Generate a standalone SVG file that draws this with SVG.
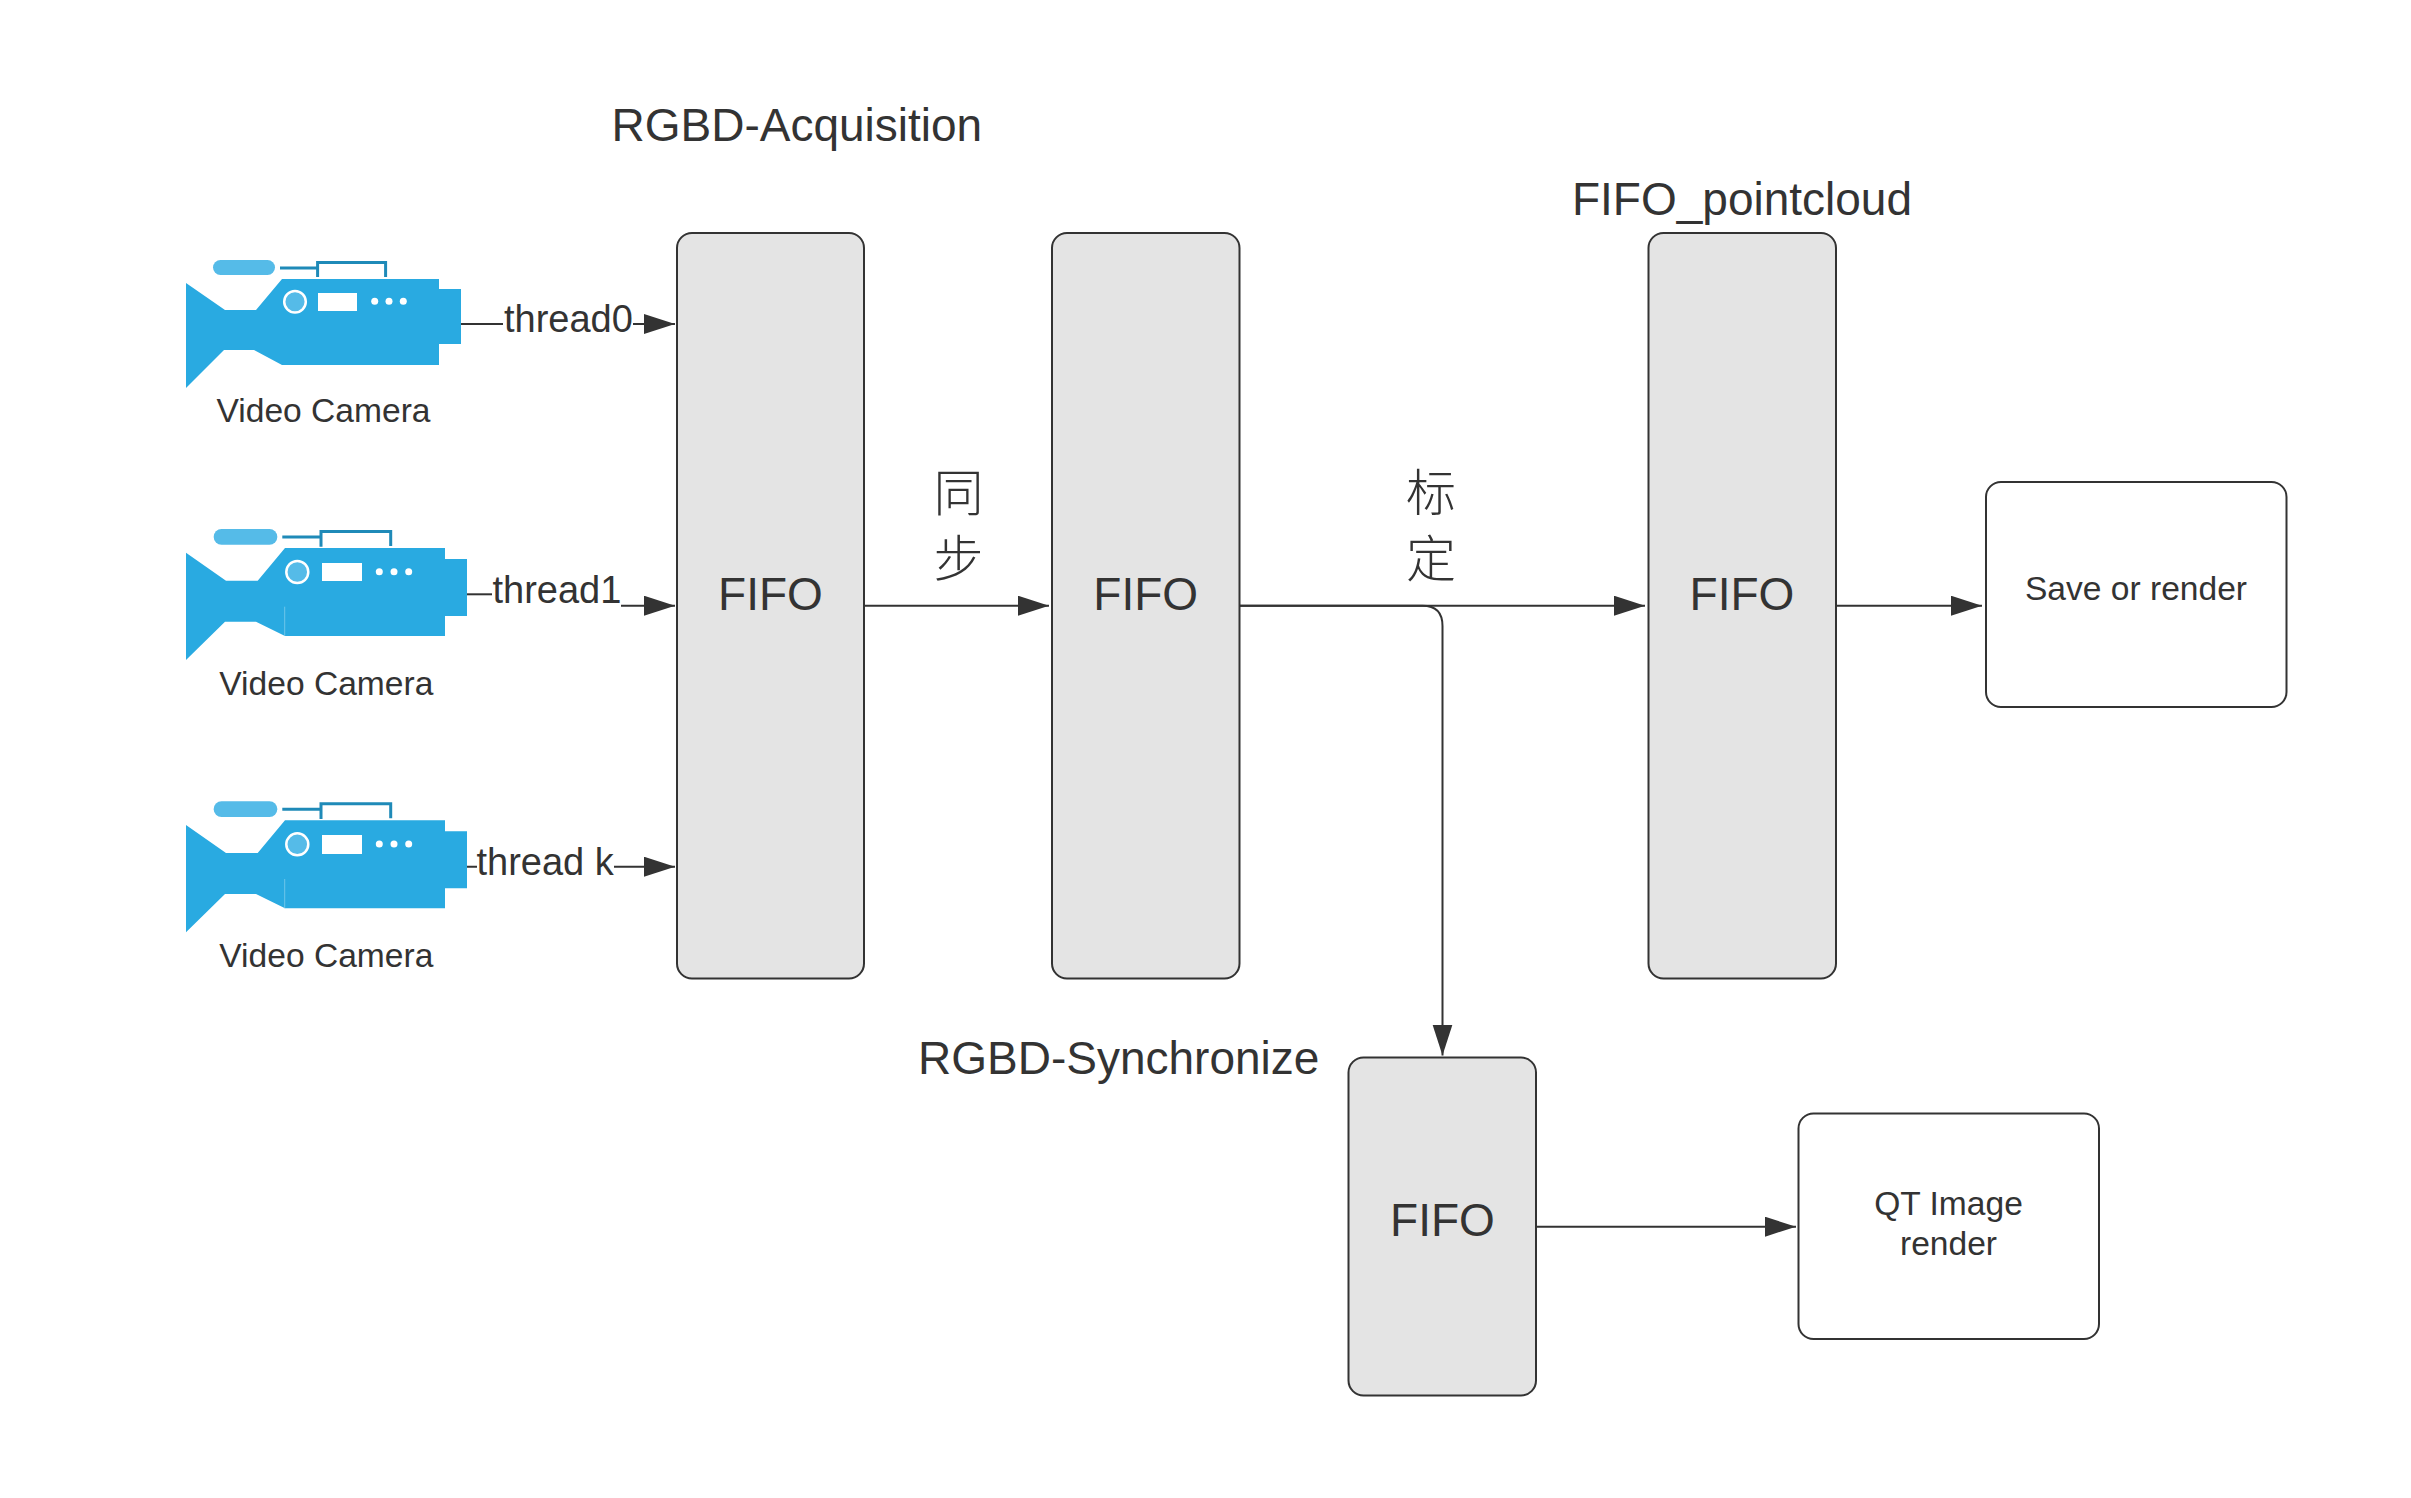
<svg xmlns="http://www.w3.org/2000/svg" width="2411" height="1498" viewBox="0 0 2411 1498">
<style>
text{font-family:"Liberation Sans","Noto Sans CJK SC",sans-serif;fill:#333}
.t46{font-size:46px}.t37{font-size:38px}.t33{font-size:33.6px}
.m{text-anchor:middle}
.cjk{font-family:"Noto Sans CJK SC","Liberation Sans",sans-serif;font-size:50px;font-weight:300}
.fifo{fill:#e4e4e4;stroke:#333;stroke-width:2}
.box{fill:#fff;stroke:#333;stroke-width:2}
.ln{fill:none;stroke:#333;stroke-width:2}
.body{fill:#29aae1}
.light{fill:#55bbe8}
.dark{fill:none;stroke:#1f8ab8;stroke-width:3}
.w{fill:#fff}
</style>
<defs>
<marker id="a" markerUnits="userSpaceOnUse" markerWidth="32" markerHeight="22" refX="31" refY="10" orient="auto"><path d="M0 0L31 10L0 20Z" fill="#333"/></marker>
</defs>
<rect width="2411" height="1498" fill="#fff"/>
<g id="connectors">
<path class="ln" d="M461 324H503M633 324H675" marker-end="url(#a)"/>
<path class="ln" d="M467 594.3H492"/>
<path class="ln" d="M621 605.7H675" marker-end="url(#a)"/>
<path class="ln" d="M467 866.7H477M614 866.7H675" marker-end="url(#a)"/>
<path class="ln" d="M864 605.7H1049" marker-end="url(#a)"/>
<path class="ln" d="M1239.5 605.7H1645" marker-end="url(#a)"/>
<path class="ln" d="M1239.5 605.7H1422.5Q1442.5 605.7 1442.5 626V1055.5" marker-end="url(#a)"/>
<path class="ln" d="M1836 605.7H1982" marker-end="url(#a)"/>
<path class="ln" d="M1537 1226.7H1796" marker-end="url(#a)"/>
</g>
<g id="camera0">
<rect class="light" x="213" y="260" width="62" height="15" rx="7.5"/>
<path class="dark" d="M280 268H317.6M317.6 277V262.5H385.6V277"/>
<path class="body" d="M186 283L225 310H256L282 279H439V289H461V344H439V365H282L254 350H224L186 388Z"/>
<circle class="light" cx="295" cy="301.7" r="10.8" stroke="#fff" stroke-width="2.5"/>
<rect class="w" x="318" y="293" width="39" height="18"/>
<circle class="w" cx="374.7" cy="301.3" r="3.5"/><circle class="w" cx="389" cy="301.3" r="3.5"/><circle class="w" cx="403.3" cy="301.3" r="3.5"/>
<text class="t33" x="216.5" y="422">Video Camera</text>
</g>
<g id="camera1">
<rect class="light" x="213.7" y="529" width="63.6" height="15.7" rx="7.8"/>
<path class="dark" d="M282.3 537H321M321 546.7V531.5H390.7V546"/>
<path class="body" d="M186 552.7L226 580.7H257.7L285 548H445V559H467V616H445V636H285L256 621.7H225L186 660Z"/>
<path d="M284.7 606.7V636" stroke="#7fcbec" stroke-width="0.8" fill="none"/>
<circle class="light" cx="297.3" cy="572" r="11" stroke="#fff" stroke-width="2.5"/>
<rect class="w" x="322" y="563" width="40" height="18"/>
<circle class="w" cx="379.3" cy="571.7" r="3.5"/><circle class="w" cx="394" cy="571.7" r="3.5"/><circle class="w" cx="408.7" cy="571.7" r="3.5"/>
<text class="t33" x="219.3" y="695">Video Camera</text>
</g>
<g id="camera2">
<rect class="light" x="213.7" y="801.3" width="63.6" height="15.7" rx="7.8"/>
<path class="dark" d="M282.3 809.3H321M321 819V803.8H390.7V818.3"/>
<path class="body" d="M186 825L226 853H257.7L285 820.3H445V831.3H467V888.3H445V908.3H285L256 894H225L186 932.3Z"/>
<path d="M284.7 879V908.3" stroke="#7fcbec" stroke-width="0.8" fill="none"/>
<circle class="light" cx="297.3" cy="844.3" r="11" stroke="#fff" stroke-width="2.5"/>
<rect class="w" x="322" y="835" width="40" height="19"/>
<circle class="w" cx="379.3" cy="844" r="3.5"/><circle class="w" cx="394" cy="844" r="3.5"/><circle class="w" cx="408.7" cy="844" r="3.5"/>
<text class="t33" x="219.3" y="967">Video Camera</text>
</g>
<g id="fifo1"><rect class="fifo" x="677" y="233" width="187" height="745.5" rx="15"/><text class="t46 m" x="770.5" y="610">FIFO</text></g>
<g id="fifo2"><rect class="fifo" x="1052" y="233" width="187.5" height="745.5" rx="15"/><text class="t46 m" x="1145.7" y="610">FIFO</text></g>
<g id="fifo3"><rect class="fifo" x="1648.5" y="233" width="187.5" height="745.5" rx="15"/><text class="t46 m" x="1742" y="610">FIFO</text></g>
<g id="fifo4"><rect class="fifo" x="1348.5" y="1057.5" width="187.5" height="338" rx="15"/><text class="t46 m" x="1442.5" y="1236">FIFO</text></g>
<g id="save"><rect class="box" x="1986" y="482" width="300.5" height="225" rx="15"/><text class="t33 m" x="2136" y="600">Save or render</text></g>
<g id="qt"><rect class="box" x="1798.5" y="1113.5" width="300.5" height="225.5" rx="15"/><text class="t33 m" x="1948.5" y="1215">QT Image</text><text class="t33 m" x="1948.5" y="1255">render</text></g>
<g id="labels">
<text class="t37" x="504" y="331.5">thread0</text>
<text class="t37" x="492.5" y="602.5">thread1</text>
<text class="t37" x="476.5" y="874.5">thread k</text>
<text class="t46" x="611.5" y="140.5">RGBD-Acquisition</text>
<text class="t46 m" x="1742" y="215">FIFO_pointcloud</text>
<text class="t46" x="918" y="1074">RGBD-Synchronize</text>
<text class="cjk m"><tspan x="958.5" y="511">同</tspan><tspan x="958.5" y="577">步</tspan></text>
<text class="cjk m"><tspan x="1431" y="511">标</tspan><tspan x="1431" y="577">定</tspan></text>
</g>
</svg>
